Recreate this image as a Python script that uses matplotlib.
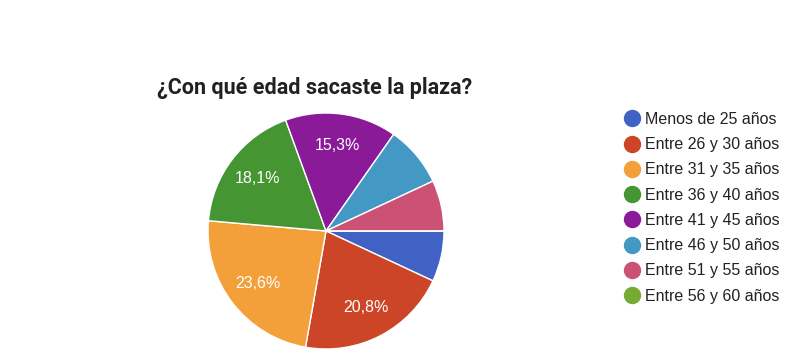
import matplotlib.pyplot as plt
from matplotlib.lines import Line2D

categories = ['Menos de 25 años', 'Entre 26 y 30 años', 'Entre 31 y 35 años',
              'Entre 36 y 40 años', 'Entre 41 y 45 años', 'Entre 46 y 50 años',
              'Entre 51 y 55 años', 'Entre 56 y 60 años']
counts = [5, 15, 17, 13, 11, 6, 5, 0]
colours = ['#4062c4', '#cc4527', '#f3a03a', '#459532', '#8b1a98', '#4498c4', '#cb5275', '#77aa33']

W, H = 790, 362
fig = plt.figure(figsize=(W / 100, H / 100), dpi=100)

cx, cy, r = 326, 231, 118
ax = fig.add_axes([(cx - r) / W, (H - cy - r) / H, 2 * r / W, 2 * r / H])

def pct_label(p):
    # small slices get no label, like the original
    return f"{p:.1f}%".replace('.', ',') if p >= 10 else ''

ax.pie(counts, colors=colours, startangle=0, counterclock=False,
       autopct=pct_label, pctdistance=0.73,
       wedgeprops={'edgecolor': 'white', 'linewidth': 1},
       textprops={'color': 'white', 'fontsize': 11.5, 'family': 'Liberation Sans'})
ax.set_xlim(-1, 1)
ax.set_ylim(-1, 1)
ax.set_aspect('equal')
ax.axis('off')

fig.text(315 / W, 1 - 88 / H, '¿Con qué edad sacaste la plaza?', ha='center', va='center',
         fontsize=15.5, fontweight='bold', family='Roboto', color='#212121')

handles = [Line2D([], [], marker='o', linestyle='', markersize=11.5,
                  markerfacecolor=c, markeredgecolor=c) for c in colours]
fig.legend(handles, categories, loc='upper left', bbox_to_anchor=(615 / W, 1 - 104 / H),
           frameon=False, prop={'family': 'Liberation Sans', 'size': 11.5},
           labelspacing=0.64, handletextpad=0.25, handlelength=1.15, borderpad=0,
           labelcolor='#222222')

fig.savefig('out.png', dpi=100)
